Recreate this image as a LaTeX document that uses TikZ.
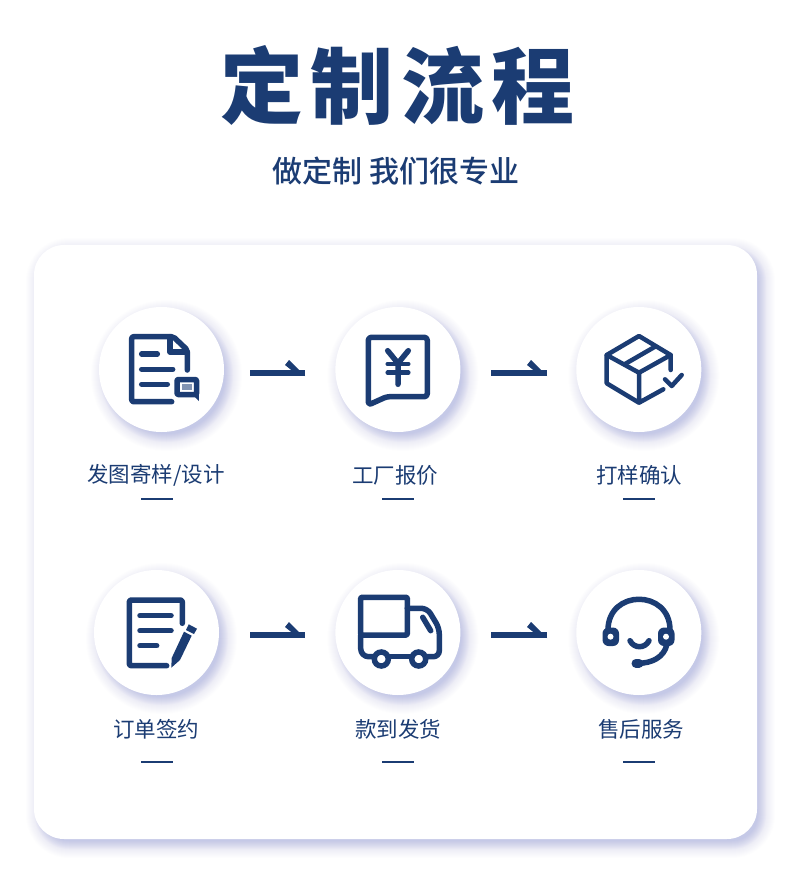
\documentclass[tikz,border=0pt]{standalone}
\usepackage{fontspec}
\setmainfont{Noto Sans CJK SC}
\newfontfamily\titlefont[LetterSpace=9]{Noto Sans CJK SC Black}
\newfontfamily\subfont{Noto Sans CJK SC Medium}
\usepackage{tikz}
\usetikzlibrary{positioning,calc,backgrounds}
\definecolor{flowink}{RGB}{27,60,115}
\definecolor{shadowink}{RGB}{140,150,215}
\pgfdeclarelayer{cardlayer}
\pgfsetlayers{cardlayer,background,main}
\tikzset{
  stepcircle/.style={circle, fill=white, minimum size=125pt, inner sep=0pt},
  steplabel/.style={font=\fontsize{21.5}{24}\selectfont, text=flowink, inner sep=0pt},
  stepdash/.style={draw=flowink, line width=2pt},
  flowline/.style={draw=flowink, line width=6pt},
  iconline/.style={draw=flowink, line width=5.5pt, line cap=round, line join=round},
  iconthin/.style={iconline, line width=4.5pt},
  wheel/.style={circle, draw=flowink, line width=5.5pt, fill=white, minimum size=14pt, inner sep=0pt},
}
\newcommand{\flowbarb}[1]{\fill[flowink] ($(#1)+(0,3)$) -- ++(-16,-16) -- ++(-4,5) -- ++(10,8) -- cycle;}
\begin{document}
\begin{tikzpicture}[x=1pt, y=-1pt]
  \useasboundingbox (0,0) rectangle (790,890);
  \begin{pgfonlayer}{cardlayer}
    \fill[white] (0,0) rectangle (790,890);
    \foreach \g in {5,...,13}
      \fill[shadowink, opacity=.012, rounded corners=30+\g]
        (34+5-\g,245+6-\g) rectangle (757+5+\g,839+6+\g);
    \foreach \g in {-4,...,4}
      \fill[shadowink, opacity=.05, rounded corners=30+\g]
        (34+5-\g,245+6-\g) rectangle (757+5+\g,839+6+\g);
    \node (card) [fill=white, rounded corners=30pt, minimum width=723pt, minimum height=594pt, inner sep=0pt] at (395.5,542) {};
  \end{pgfonlayer}
  \node (title) [font=\fontsize{83}{90}\selectfont\titlefont, text=flowink] at (397.5,85) {定制流程};
  \node (subtitle) [font=\fontsize{30}{32}\selectfont\subfont, text=flowink] at (396,171) {做定制 我们很专业};
  % steps
  \node (c1) [stepcircle] at (161.5,369.5) {};
  \node (c2) [stepcircle, right=111pt of c1] {};
  \node (c3) [stepcircle, right=115.5pt of c2] {};
  \node (c4) [stepcircle] at (156.5,632.5) {};
  \node (c5) [stepcircle, right=116pt of c4] {};
  \node (c6) [stepcircle, right=115.5pt of c5] {};
  \begin{scope}[on background layer]
    \foreach \c in {c1,c2,c3,c4,c5,c6}{
      \foreach \g in {5,...,13}
        \fill[shadowink, opacity=.012] ($(\c)+(5,6)$) circle[radius=62.5pt+\g pt];
      \foreach \g in {-4,...,4}
        \fill[shadowink, opacity=.05] ($(\c)+(5,6)$) circle[radius=62.5pt+\g pt];
    }
  \end{scope}
  \node (l1) [steplabel] at (156,475) {发图寄样/设计};
  \node (l2) [steplabel] at (395,475) {工厂报价};
  \node (l3) [steplabel] at (639,475) {打样确认};
  \node (l4) [steplabel] at (156,729) {订单签约};
  \node (l5) [steplabel] at (398,729) {款到发货};
  \node (l6) [steplabel] at (641,729) {售后服务};
  \draw[stepdash] (141,499) -- (173,499); \draw[stepdash] (382,499) -- (414,499); \draw[stepdash] (623,499) -- (655,499);
  \draw[stepdash] (141,762) -- (173,762); \draw[stepdash] (382,762) -- (414,762); \draw[stepdash] (623,762) -- (655,762);
  % connectors
  \coordinate (s1) at (250,373); \coordinate (e1) at (305,373);
  \coordinate (s2) at (491,373); \coordinate (e2) at (547,373);
  \coordinate (s3) at (250,635); \coordinate (e3) at (305,635);
  \coordinate (s4) at (491,635); \coordinate (e4) at (547,635);
  \draw[flowline] (s1) -- (e1); \flowbarb{e1}
  \draw[flowline] (s2) -- (e2); \flowbarb{e2}
  \draw[flowline] (s3) -- (e3); \flowbarb{e3}
  \draw[flowline] (s4) -- (e4); \flowbarb{e4}
  % icon: document
  \draw[iconline, rounded corners=2pt] (171.7,401.7) -- (131.7,401.7) -- (131.7,336.7) -- (173.3,336.7) -- (187.3,350) -- (187.3,370);
  \draw[iconline] (170,336.7) -- (170,352) -- (187,352);
  \draw[iconline] (141.7,354) -- (157.3,354) (141.7,369.3) -- (172.7,369.3) (141.7,384.3) -- (167.3,384.3);
  \draw[iconline, rounded corners=1pt] (177,379.5) rectangle (196.5,394.5);
  \fill[flowink] (192,394) -- (199,394) -- (198.8,401) -- cycle;
  \fill[flowink!55] (182,384) rectangle (192,390);
  % icon: quote
  \draw[iconline, rounded corners=3pt] (368.3,337.3) -- (427.3,337.3) -- (427.3,396.7) -- (386.7,396.7) -- (368.3,405) -- cycle;
  \draw[iconline] (387.7,350.7) -- (398,363.3) -- (408.3,350.7) (398,363.3) -- (398,384.3);
  \draw[iconline, line width=4.5pt] (387.7,364) -- (408.3,364) (387.7,372.7) -- (408.3,372.7);
  % icon: box
  \draw[iconthin] (639,336) -- (606.7,355) -- (639,372.7) -- (670.7,355) -- cycle;
  \draw[iconthin] (606.7,355) -- (606.7,383.3) -- (639,402.7) -- (663.3,389.3) (639,372.7) -- (639,402.7);
  \draw[iconthin] (670.7,355) -- (670.7,370) (625,364) -- (655,346.7);
  \draw[iconthin] (665,379.3) -- (671.7,386) -- (681.7,375);
  % icon: contract
  \draw[iconline, rounded corners=2pt] (166.7,665.7) -- (129.3,665.7) -- (129.3,600) -- (182.3,600) -- (182.3,623.3);
  \draw[iconline] (140,615.7) -- (171,615.7) (140,630.7) -- (171,630.7) (140,645.7) -- (156.7,645.7);
  \fill[flowink] (171.3,667.7) -- (171.7,658) -- (184,631.7) -- (191.7,635.7) -- (180,660) -- cycle;
  \fill[flowink] (186,630) -- (188.7,624.3) -- (197,628.7) -- (194,634) -- cycle;
  % icon: truck
  \draw[iconline, rounded corners=1pt] (360.7,597.3) rectangle (407.3,635);
  \draw[iconline, rounded corners=8pt] (360.7,635) -- (360.7,656.7) -- (373,656.7);
  \draw[iconline] (390,656.7) -- (410,656.7);
  \draw[iconline, rounded corners=6pt] (407.3,608.3) -- (427.3,608.3) -- (439.3,628.3) -- (439.3,656.7) -- (427,656.7);
  \draw[iconline] (422.7,617.3) -- (430.7,630.7);
  \node (w1) [wheel] at (381.3,659) {};
  \node (w2) [wheel] at (418.7,659) {};
  % icon: headset
  \draw[iconline] (608,632) -- (608,630) .. controls (608,589) and (670,589) .. (670,630) -- (670,632);
  \fill[flowink, rounded corners=6pt] (602.5,627.5) rectangle (619,646);
  \fill[flowink, rounded corners=6pt] (658,627.5) rectangle (674.5,646);
  \fill[white] (610.5,636.7) circle[radius=3pt] (666,636.7) circle[radius=3pt];
  \draw[iconline] (666.7,645) .. controls (664,657) and (652,663.3) .. (638,663.3);
  \draw[iconline, line width=9pt] (636,663.3) -- (639,663.3);
  \draw[iconline] (630,640.7) .. controls (634,648.7) and (645,648.7) .. (649,640.7);
\end{tikzpicture}
\end{document}
